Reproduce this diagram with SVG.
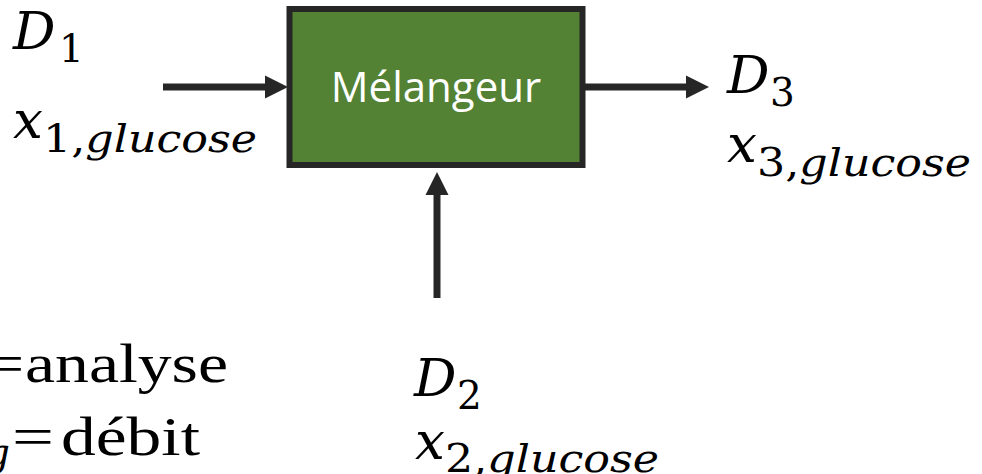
<svg xmlns="http://www.w3.org/2000/svg" width="982" height="474" viewBox="0 0 982 474">
<style>
.m{font-family:"DejaVu Serif","Liberation Serif",serif;font-style:italic;font-size:53px;fill:#000}
.s{font-family:"DejaVu Serif","Liberation Serif",serif;font-size:39px;fill:#000}
.si{font-style:italic}
.r{font-family:"Liberation Serif","DejaVu Serif",serif;font-size:54px;fill:#000}
.lbl{font-family:"Open Sans","Noto Sans",sans-serif;font-size:42px;fill:#ffffff}
.ln{stroke:#262626;stroke-width:7;fill:none}
.hd{fill:#262626}
</style>
<rect width="982" height="474" fill="#ffffff"/>
<g id="connectors">
<line class="ln" x1="163" y1="87" x2="266" y2="87"/>
<polygon class="hd" points="265,75.5 288,87 265,98.5"/>
<line class="ln" x1="585" y1="87" x2="687" y2="87"/>
<polygon class="hd" points="686,75.5 709,87 686,98.5"/>
<line class="ln" x1="437" y1="298" x2="437" y2="194"/>
<polygon class="hd" points="425.5,195 437,172 448.5,195"/>
</g>
<g id="melangeur">
<rect x="289.5" y="9" width="293" height="156" fill="#548235" stroke="#262626" stroke-width="6"/>
<text class="lbl" x="436" y="102" text-anchor="middle">Mélangeur</text>
</g>
<g id="input1">
<text class="m" x="13" y="49">D</text>
<text class="s" x="59" y="62">1</text>
<text class="m" x="13" y="138">x</text>
<text class="s" x="43" y="152" textLength="214" lengthAdjust="spacingAndGlyphs">1,<tspan class="si">glucose</tspan></text>
</g>
<g id="output3">
<text class="m" x="727" y="93">D</text>
<text class="s" x="770" y="106">3</text>
<text class="m" x="727" y="162">x</text>
<text class="s" x="757" y="176" textLength="214" lengthAdjust="spacingAndGlyphs">3,<tspan class="si">glucose</tspan></text>
</g>
<g id="input2">
<text class="m" x="414" y="396">D</text>
<text class="s" x="457" y="409">2</text>
<text class="m" x="415" y="459">x</text>
<text class="s" x="445" y="472" textLength="214" lengthAdjust="spacingAndGlyphs">2,<tspan class="si">glucose</tspan></text>
</g>
<g id="legend">
<text class="r" x="-7" y="382">=</text>
<text class="r" x="25" y="382" textLength="203" lengthAdjust="spacingAndGlyphs">analyse</text>
<text class="s si" x="-15" y="466">g</text>
<text class="r" x="12" y="455" textLength="42" lengthAdjust="spacingAndGlyphs">=</text>
<text class="r" x="61" y="455" textLength="139" lengthAdjust="spacingAndGlyphs">débit</text>
</g>
</svg>
